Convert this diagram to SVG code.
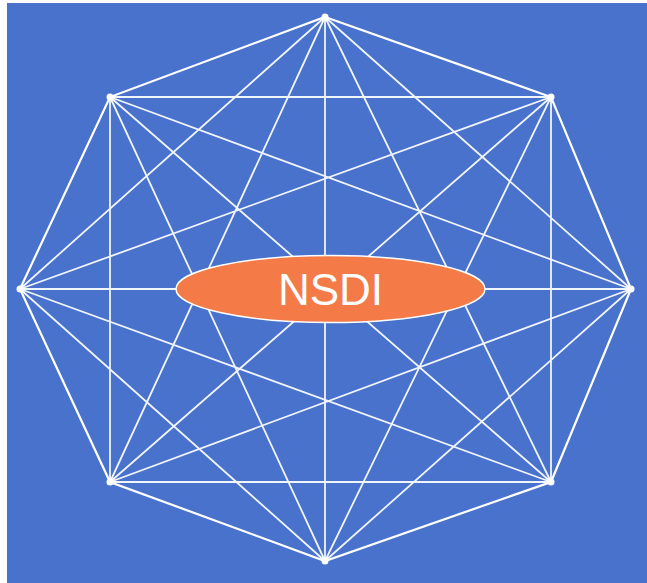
<svg xmlns="http://www.w3.org/2000/svg" width="647" height="583" viewBox="0 0 647 583">
<style>
.e{stroke:#ffffff;stroke-width:2.2;fill:none;stroke-linecap:round}
.d{stroke:#ffffff;stroke-width:1.8;fill:none;stroke-opacity:0.92}
.v{fill:#ffffff}
</style>
<rect x="0" y="0" width="647" height="583" fill="#ffffff"/>
<rect x="7" y="3" width="640" height="580" fill="#4872CC"/>
<g id="connectors">
<polygon class="e" points="325,17 551,97 631,289 551,482 325,561 110,482 20,289 110,97"/>
<path class="d" d="M325,17 L631,289 M325,17 L551,482 M325,17 L325,561 M325,17 L110,482 M325,17 L20,289
M551,97 L551,482 M551,97 L325,561 M551,97 L110,482 M551,97 L20,289 M551,97 L110,97
M631,289 L325,561 M631,289 L110,482 M631,289 L20,289 M631,289 L110,97
M551,482 L110,482 M551,482 L20,289 M551,482 L110,97
M325,561 L20,289 M325,561 L110,97
M110,482 L110,97"/>
</g>
<g id="vertices">
<circle class="v" cx="325" cy="17" r="3.5"/>
<circle class="v" cx="551" cy="97" r="3.5"/>
<circle class="v" cx="631" cy="289" r="3.5"/>
<circle class="v" cx="551" cy="482" r="3.5"/>
<circle class="v" cx="325" cy="561" r="3.5"/>
<circle class="v" cx="110" cy="482" r="3.5"/>
<circle class="v" cx="20" cy="289" r="3.5"/>
<circle class="v" cx="110" cy="97" r="3.5"/>
</g>
<g id="nsdi">
<ellipse cx="330.5" cy="289" rx="154.5" ry="33.5" fill="#F47B48" stroke="#ffffff" stroke-width="1.5"/>
<text x="330.5" y="305" text-anchor="middle" font-family="Liberation Sans, Arial, sans-serif" font-size="44" fill="#ffffff">NSDI</text>
</g>
</svg>
